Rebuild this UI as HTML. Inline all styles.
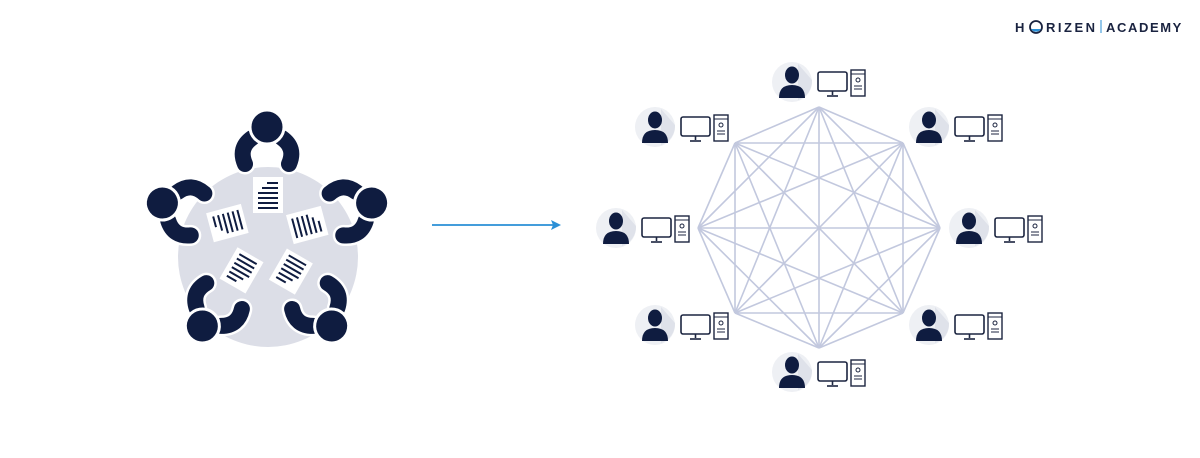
<!DOCTYPE html>
<html><head><style>
body{margin:0;background:#fff;width:1200px;height:453px;overflow:hidden;font-family:"Liberation Sans",sans-serif}
</style></head><body>
<svg width="1200" height="453" viewBox="0 0 1200 453" xmlns="http://www.w3.org/2000/svg">
<defs>
<g id="person">
  <path d="M252,138 Q238,148 245,164" fill="none" stroke="#fff" stroke-width="21" stroke-linecap="round"/>
  <path d="M282,138 Q296,148 289,164" fill="none" stroke="#fff" stroke-width="21" stroke-linecap="round"/>
  <path d="M252,138 Q238,148 245,164" fill="none" stroke="#0f1c40" stroke-width="16" stroke-linecap="round"/>
  <path d="M282,138 Q296,148 289,164" fill="none" stroke="#0f1c40" stroke-width="16" stroke-linecap="round"/>
  <circle cx="267" cy="127" r="17" fill="#0f1c40" stroke="#fff" stroke-width="3"/>
</g>
<g id="paper">
  <rect x="253" y="177" width="30" height="36" fill="#fff"/>
  <g stroke="#0f1c40" stroke-width="2">
    <line x1="267" y1="183" x2="278" y2="183"/><line x1="262" y1="188" x2="278" y2="188"/>
    <line x1="258" y1="193" x2="278" y2="193"/><line x1="258" y1="198" x2="278" y2="198"/>
    <line x1="258" y1="203" x2="278" y2="203"/><line x1="258" y1="208" x2="278" y2="208"/>
  </g>
</g>
<g id="node">
  <circle cx="0" cy="0" r="20" fill="#eef0f4"/>
  <path d="M6,-18 L20,-2 A20,20 0 0 1 6,18 Z" fill="#dfe2ea"/>
  <ellipse cx="0" cy="-7" rx="7" ry="8.5" fill="#0f1c40"/>
  <path d="M-13,16 Q-13,3 0,3 Q13,3 13,16 Z" fill="#0f1c40"/>
  <rect x="26" y="-10" width="29" height="19" rx="2" fill="#fff" stroke="#1c2540" stroke-width="1.6"/>
  <line x1="40.5" y1="9" x2="40.5" y2="13" stroke="#1c2540" stroke-width="1.6"/>
  <line x1="35" y1="14" x2="46" y2="14" stroke="#1c2540" stroke-width="1.6"/>
  <rect x="59" y="-12" width="14" height="26" fill="#fff" stroke="#1c2540" stroke-width="1.4"/>
  <line x1="59" y1="-8" x2="73" y2="-8" stroke="#1c2540" stroke-width="1"/>
  <circle cx="66" cy="-2" r="2" fill="none" stroke="#1c2540" stroke-width="1"/>
  <line x1="62" y1="4" x2="70" y2="4" stroke="#1c2540" stroke-width="1"/>
  <line x1="62" y1="7" x2="70" y2="7" stroke="#1c2540" stroke-width="1"/>
</g>
</defs>

<circle cx="268" cy="257" r="90" fill="#dcdee7"/>
<g>
  <use href="#person"/>
  <use href="#person" transform="rotate(72 267 237)"/>
  <use href="#person" transform="rotate(144 267 237)"/>
  <use href="#person" transform="rotate(216 267 237)"/>
  <use href="#person" transform="rotate(288 267 237)"/>
  <use href="#paper"/>
  <use href="#paper" transform="rotate(72 267 237) rotate(3 268 195)"/>
  <use href="#paper" transform="rotate(144 267 237) rotate(66 268 195)"/>
  <use href="#paper" transform="rotate(216 267 237) rotate(-6 268 195)"/>
  <use href="#paper" transform="rotate(288 267 237) rotate(-33 268 195)"/>
</g>

<line x1="432" y1="225" x2="553" y2="225" stroke="#2a8fd6" stroke-width="1.8"/>
<path d="M561,225 L551,220 L553,225 L551,230 Z" fill="#2a8fd6"/>

<g stroke="#c2c8de" stroke-width="1.6">
<line x1="819" y1="107" x2="903" y2="143"/><line x1="819" y1="107" x2="940" y2="228"/><line x1="819" y1="107" x2="903" y2="313"/><line x1="819" y1="107" x2="819" y2="348"/><line x1="819" y1="107" x2="735" y2="313"/><line x1="819" y1="107" x2="698" y2="228"/><line x1="819" y1="107" x2="735" y2="143"/>
<line x1="903" y1="143" x2="940" y2="228"/><line x1="903" y1="143" x2="903" y2="313"/><line x1="903" y1="143" x2="819" y2="348"/><line x1="903" y1="143" x2="735" y2="313"/><line x1="903" y1="143" x2="698" y2="228"/><line x1="903" y1="143" x2="735" y2="143"/>
<line x1="940" y1="228" x2="903" y2="313"/><line x1="940" y1="228" x2="819" y2="348"/><line x1="940" y1="228" x2="735" y2="313"/><line x1="940" y1="228" x2="698" y2="228"/><line x1="940" y1="228" x2="735" y2="143"/>
<line x1="903" y1="313" x2="819" y2="348"/><line x1="903" y1="313" x2="735" y2="313"/><line x1="903" y1="313" x2="698" y2="228"/><line x1="903" y1="313" x2="735" y2="143"/>
<line x1="819" y1="348" x2="735" y2="313"/><line x1="819" y1="348" x2="698" y2="228"/><line x1="819" y1="348" x2="735" y2="143"/>
<line x1="735" y1="313" x2="698" y2="228"/><line x1="735" y1="313" x2="735" y2="143"/>
<line x1="698" y1="228" x2="735" y2="143"/>
</g>

<use href="#node" transform="translate(792 82)"/>
<use href="#node" transform="translate(655 127)"/>
<use href="#node" transform="translate(929 127)"/>
<use href="#node" transform="translate(616 228)"/>
<use href="#node" transform="translate(969 228)"/>
<use href="#node" transform="translate(655 325)"/>
<use href="#node" transform="translate(929 325)"/>
<use href="#node" transform="translate(792 372)"/>

<text x="1015" y="32" font-family="Liberation Sans, sans-serif" font-size="13" font-weight="bold" letter-spacing="3" fill="#1a2340">H</text>
<circle cx="1036" cy="27" r="6" fill="none" stroke="#1a2340" stroke-width="1.8"/>
<path d="M1031,29 A6,6 0 0 0 1041,29 Z" fill="#2a8fd6"/>
<text x="1046" y="32" font-family="Liberation Sans, sans-serif" font-size="13" font-weight="bold" letter-spacing="2.5" fill="#1a2340">RIZEN</text>
<line x1="1101" y1="20" x2="1101" y2="33" stroke="#2a8fd6" stroke-width="1"/>
<text x="1106" y="32" font-family="Liberation Sans, sans-serif" font-size="13" font-weight="bold" letter-spacing="1.6" fill="#1a2340">ACADEMY</text>
</svg>
</body></html>
